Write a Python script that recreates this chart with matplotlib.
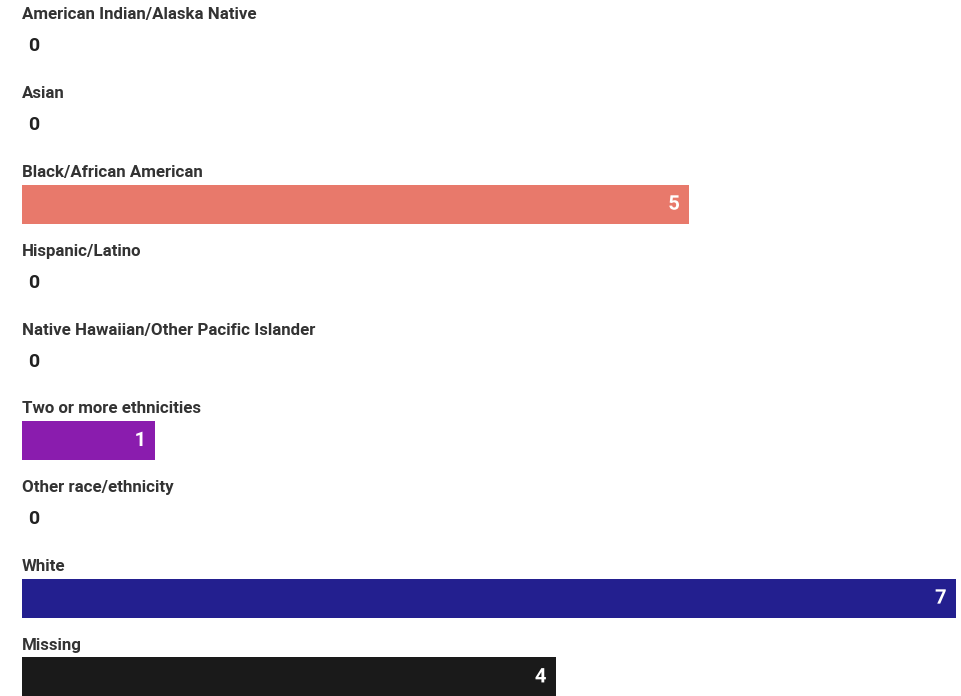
import matplotlib.pyplot as plt
import matplotlib.patheffects as pe

categories = [
    "American Indian/Alaska Native",
    "Asian",
    "Black/African American",
    "Hispanic/Latino",
    "Native Hawaiian/Other Pacific Islander",
    "Two or more ethnicities",
    "Other race/ethnicity",
    "White",
    "Missing",
]
values = [0, 0, 5, 0, 0, 1, 0, 7, 4]
colors = ["#e8796b", "#e8796b", "#e8796b", "#e8796b", "#e8796b",
          "#8a1cae", "#8a1cae", "#231f8f", "#1a1a1a"]

plt.rcParams['font.family'] = ['Roboto', 'DejaVu Sans']

fig = plt.figure(figsize=(9.62, 6.96), dpi=100)
ax = fig.add_axes([0, 0, 1, 1])
ax.set_xlim(-0.1649, 7.045)
ax.set_ylim(8.242, -0.590)
ax.axis("off")

ypos = list(range(len(categories)))
ax.barh(ypos, values, height=0.495, color=colors, left=0)

for y, cat, v, c in zip(ypos, categories, values, colors):
    ax.text(0, y - 0.40, cat, fontsize=12.2, fontweight="bold", color="#333333",
            ha="left", va="center")
    if v == 0:
        ax.text(0.045, y, "0", fontsize=14, fontweight="bold", color="#222222",
                ha="left", va="center")
    else:
        ax.text(v - 0.07, y, str(v), fontsize=14.5, fontweight="bold", color="white",
                ha="right", va="center",
                path_effects=[pe.withStroke(linewidth=3, foreground=c)])

fig.savefig("out.png", dpi=100)
